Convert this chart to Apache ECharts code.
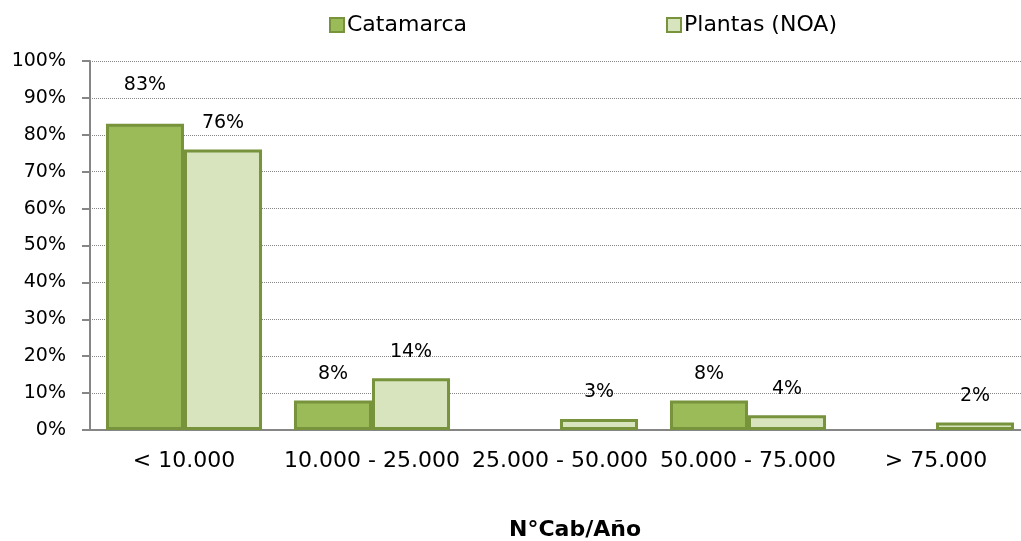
<!DOCTYPE html>
<html>
<head>
<meta charset="utf-8">
<script src="https://cdn.jsdelivr.net/npm/echarts@6/dist/echarts.min.js"></script>
<style>
  html, body { margin: 0; padding: 0; background: #fff; }
  #chart { width: 1021px; height: 541px; }
</style>
</head>
<body>
<div id="chart"></div>
<script>
// rangos de faena
var categorias = ['< 10.000', '10.000 - 25.000', '25.000 - 50.000', '50.000 - 75.000', '> 75.000'];
// porcentajes (null = sin barra)
var catamarca = [83, 8, null, 8, null];
var plantasNOA = [76, 14, 3, 4, 2];
var yTicks = [0, 10, 20, 30, 40, 50, 60, 70, 80, 90, 100];

var FONT = 'DejaVu Sans';
var borde = '#77933C';

var chart = echarts.init(document.getElementById('chart'));

var etiqueta = {
  show: true,
  position: 'top',
  distance: 17,
  color: '#000',
  fontFamily: FONT,
  fontSize: 19,
  formatter: '{c}%'
};

chart.setOption({
  animation: false,
  textStyle: { fontFamily: FONT },
  legend: {
    left: 324,
    top: 9,
    itemWidth: 14,
    itemHeight: 14,
    itemGap: 199,
    icon: 'rect',
    textStyle: { fontSize: 22, color: '#000', fontFamily: FONT, padding: [0, 0, 0, -2] },
    data: ['Catamarca', 'Plantas (NOA)']
  },
  grid: {
    left: 90,
    width: 940,
    top: 61,
    height: 369,
    containLabel: false,
    outerBoundsMode: 'none'
  },
  xAxis: {
    type: 'category',
    data: categorias,
    name: 'N°Cab/Año',
    nameLocation: 'middle',
    nameGap: 89,
    nameTextStyle: { fontSize: 22, fontWeight: 'bold', color: '#000', fontFamily: FONT, padding: [0, 0, 0, 30] },
    axisLine: { lineStyle: { color: '#868686', width: 2 } },
    axisTick: { length: 8, lineStyle: { color: '#868686', width: 2 } },
    axisLabel: { color: '#000', fontSize: 22, fontFamily: FONT, margin: 20, interval: 0 }
  },
  yAxis: {
    type: 'value',
    min: yTicks[0],
    max: yTicks[yTicks.length - 1],
    interval: 10,
    axisLine: { show: true, lineStyle: { color: '#868686', width: 2 } },
    axisTick: { show: true, length: 8, lineStyle: { color: '#868686', width: 2 } },
    axisLabel: { color: '#000', fontSize: 19, fontFamily: FONT, margin: 24, formatter: '{value}%' },
    splitLine: { lineStyle: { color: '#868686', type: 'dotted', width: 1 } }
  },
  series: [
    {
      name: 'Catamarca',
      type: 'bar',
      barWidth: '41.5%',
      barGap: '0%',
      itemStyle: { color: '#9BBB59', borderColor: borde, borderWidth: 3 },
      label: etiqueta,
      data: catamarca.map(function (v, i) {
        // la etiqueta del primer valor queda más alta en el original
        return i === 0 ? { value: v, label: { distance: 29 } } : v;
      })
    },
    {
      name: 'Plantas (NOA)',
      type: 'bar',
      barWidth: '41.5%',
      barGap: '0%',
      itemStyle: { color: '#D7E4BD', borderColor: borde, borderWidth: 3 },
      label: etiqueta,
      data: plantasNOA
    }
  ]
});
</script>
</body>
</html>
